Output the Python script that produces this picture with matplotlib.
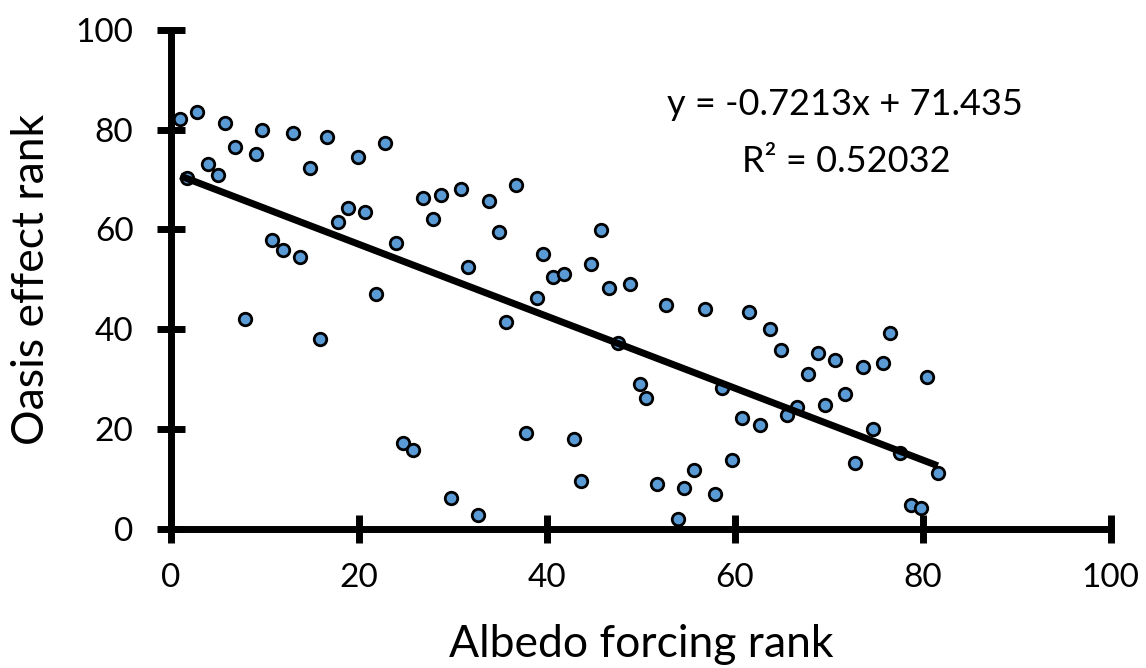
import matplotlib
matplotlib.use("Agg")
import matplotlib.pyplot as plt
import numpy as np

# Albedo forcing rank (x) and oasis effect rank (y) for each site
albedo_rank = [
    1.0, 1.7, 2.8, 3.9, 5.0, 5.7, 6.8, 7.9, 9.0, 9.7,
    10.8, 11.9, 13.0, 13.7, 14.8, 15.9, 16.6, 17.8, 18.8, 19.9,
    20.6, 21.8, 22.8, 23.9, 24.7, 25.8, 26.8, 27.9, 28.7, 29.8,
    30.9, 31.6, 32.7, 33.8, 34.9, 35.6, 36.7, 37.8, 38.9, 39.6,
    40.7, 41.8, 42.9, 43.6, 44.7, 45.8, 46.6, 47.6, 48.8, 49.9,
    50.6, 51.7, 52.7, 53.9, 54.6, 55.7, 56.8, 57.9, 58.6, 59.7,
    60.8, 61.5, 62.7, 63.7, 64.9, 65.5, 66.6, 67.8, 68.8, 69.6,
    70.7, 71.7, 72.8, 73.6, 74.7, 75.8, 76.5, 77.6, 78.7, 79.8,
    80.5, 81.6,
]
oasis_rank = [
    82.2, 70.3, 83.5, 73.1, 71.0, 81.4, 76.5, 42.0, 75.2, 80.0,
    57.9, 55.8, 79.4, 54.5, 72.4, 38.0, 78.6, 61.4, 64.2, 74.5,
    63.5, 47.0, 77.3, 57.2, 17.2, 15.8, 66.2, 62.1, 66.9, 6.2,
    68.2, 52.4, 2.7, 65.6, 59.4, 41.4, 69.0, 19.2, 46.3, 55.1,
    50.4, 51.0, 17.9, 9.6, 53.0, 59.9, 48.3, 37.3, 49.0, 29.0,
    26.2, 9.0, 44.8, 2.0, 8.2, 11.7, 44.1, 7.0, 28.2, 13.8,
    22.1, 43.4, 20.7, 40.0, 35.8, 22.7, 24.3, 31.0, 35.2, 24.8,
    33.8, 26.9, 13.1, 32.4, 20.0, 33.1, 39.3, 15.1, 4.8, 4.1,
    30.4, 11.1,
]

# Linear trendline coefficients and fit quality
slope = -0.7213
intercept = 71.435
r_squared = 0.52032

tick_values = [0, 20, 40, 60, 80, 100]
x_label = "Albedo forcing rank"
y_label = "Oasis effect rank"

plt.rcParams["font.family"] = ["Lato", "DejaVu Sans"]

W, H = 1146, 668
fig = plt.figure(figsize=(W / 100, H / 100), dpi=100)
ax = fig.add_axes([0.14921, 0.20883, 0.82, 0.74626])

ax.scatter(albedo_rank, oasis_rank, s=9.0 ** 2, facecolor="#5B9BD5",
           edgecolor="black", linewidth=2.0, zorder=3, clip_on=False)

x_fit = np.array([min(albedo_rank), max(albedo_rank)])
ax.plot(x_fit, slope * x_fit + intercept, color="black", linewidth=5,
        solid_capstyle="butt", zorder=4)

ax.set_xlim(0, 100)
ax.set_ylim(0, 100)
ax.set_xticks(tick_values)
ax.set_yticks(tick_values)

for side in ("top", "right"):
    ax.spines[side].set_visible(False)
for side in ("left", "bottom"):
    ax.spines[side].set_linewidth(5)
    ax.spines[side].set_capstyle("butt")

ax.tick_params(axis="both", direction="inout", length=20, width=5,
               labelsize=24, colors="black")
ax.tick_params(axis="x", pad=15)
ax.tick_params(axis="y", pad=17)

ax.set_xlabel(x_label, fontsize=32, va="baseline")
ax.xaxis.set_label_coords(0.5, -0.2578)
ax.set_ylabel(y_label, fontsize=32, va="center")
ax.yaxis.set_label_coords(-0.148, 0.5)

fig.text(845 / W, 1 - 115 / H, f"y = {slope}x + {intercept}",
         fontsize=26, ha="center", va="baseline")
fig.text(846 / W, 1 - 172 / H, f"R\u00b2 = {r_squared}",
         fontsize=26, ha="center", va="baseline")

fig.savefig("out.png", dpi=100)
